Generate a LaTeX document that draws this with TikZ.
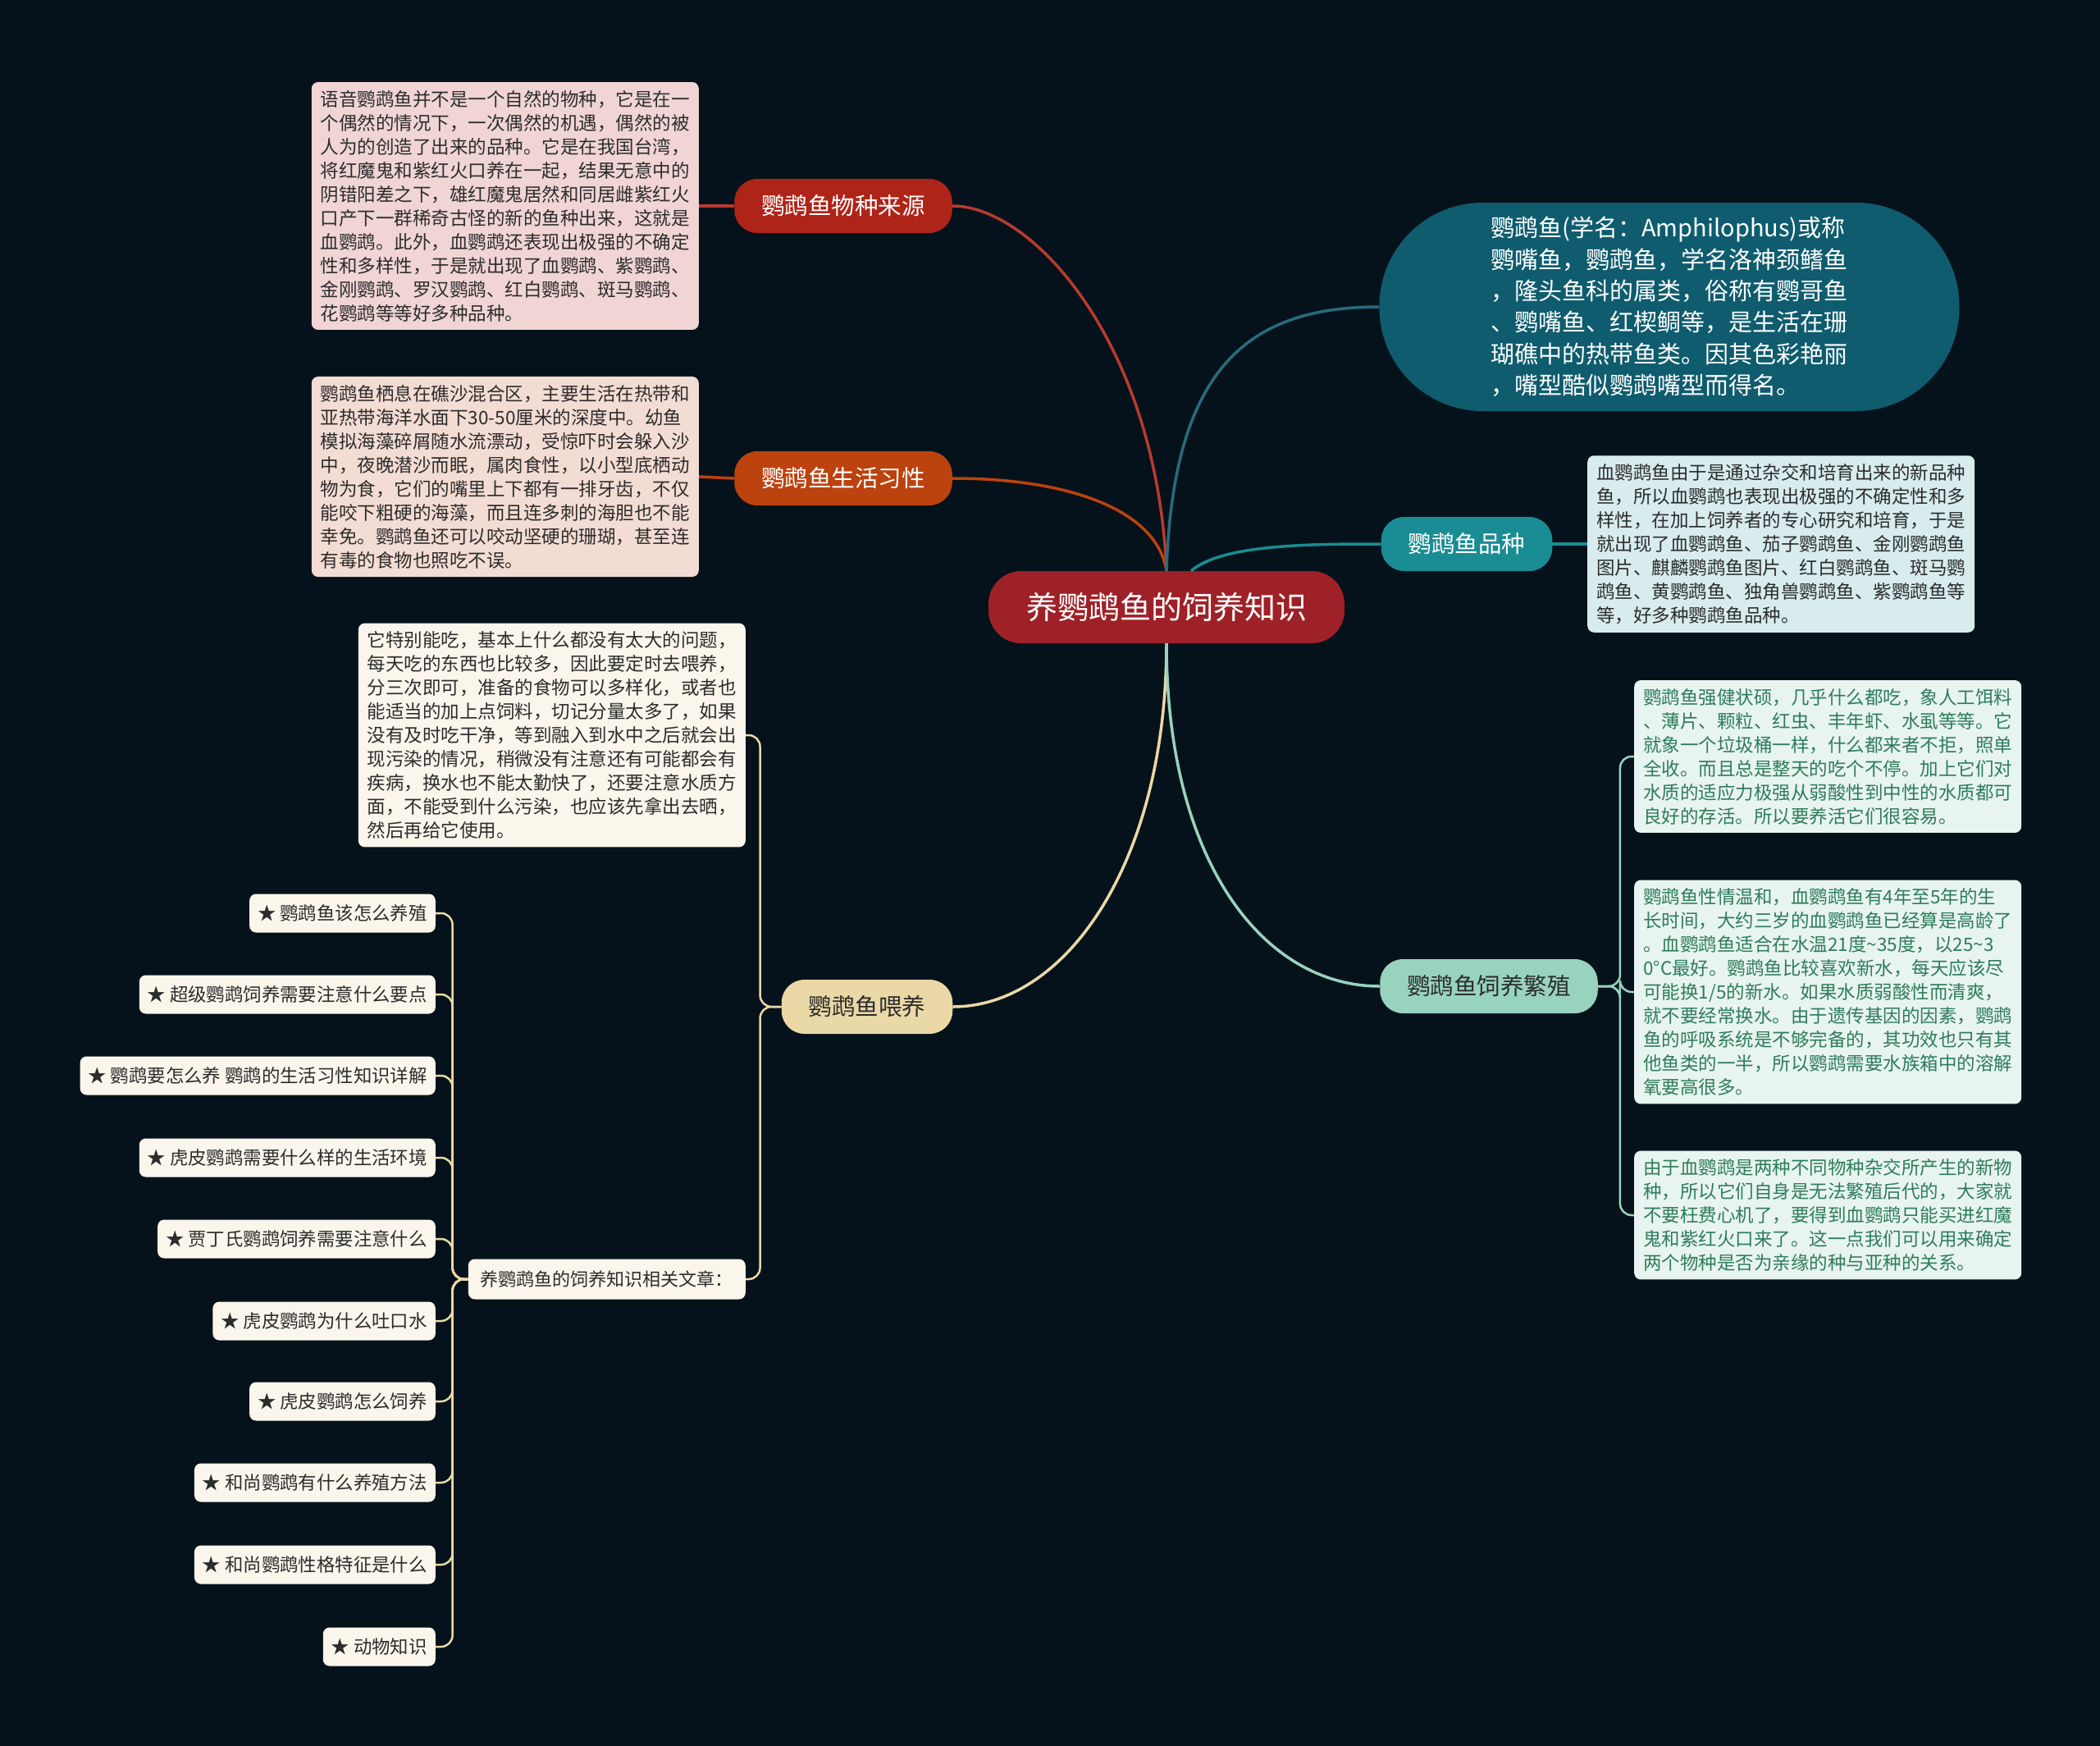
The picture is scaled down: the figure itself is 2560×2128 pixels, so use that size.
\documentclass[tikz,border=0pt]{standalone}
\usepackage{fontspec}
\setmainfont{Noto Sans CJK SC}
\usepackage{xcolor}
\usepackage{tikz}

\definecolor{bg}{HTML}{06121B}
\definecolor{rootred}{HTML}{9E2128}
\definecolor{originred}{HTML}{AF2418}
\definecolor{habitorange}{HTML}{BC420E}
\definecolor{feedsand}{HTML}{EAD8A6}
\definecolor{introteal}{HTML}{0F5C6E}
\definecolor{varteal}{HTML}{1A8C93}
\definecolor{breedmint}{HTML}{98D3BE}
\definecolor{pinkleaf}{HTML}{F0D5D4}
\definecolor{peachleaf}{HTML}{F3DCD3}
\definecolor{cream}{HTML}{FAF6EC}
\definecolor{iceleaf}{HTML}{D8ECEE}
\definecolor{mintleaf}{HTML}{E8F4F0}
\definecolor{mintext}{HTML}{2E7C5C}
\definecolor{darktext}{HTML}{2C2C2C}

\begin{document}
\begin{tikzpicture}[x=1pt,y=-1pt,
  root/.style={fill=rootred,text=white,rounded corners=40pt,minimum height=88pt,
    inner xsep=46pt,font=\fontsize{38}{46}\selectfont},
  topic/.style={rounded corners=28pt,minimum height=66pt,inner xsep=33pt,
    font=\fontsize{28.5}{34}\selectfont},
  leaf/.style={rounded corners=8pt,inner xsep=11pt,inner ysep=10pt,align=left,
    text=darktext,font=\fontsize{22.5}{29}\selectfont},
  item/.style={fill=cream,text=darktext,rounded corners=8pt,minimum height=47pt,
    inner xsep=10pt,anchor=east,font=\fontsize{22.4}{28}\selectfont},
  link/.style={line width=3.5pt},
  sub/.style={line width=2.5pt,rounded corners=14pt}]
% background
\fill[bg] (0,0) rectangle (2560,2128);
% centre and main topics
\node[root] (c) at (1422,740) {养鹦鹉鱼的饲养知识};
\node[topic,fill=originred,text=white] (o) at (1028,251) {鹦鹉鱼物种来源};
\node[topic,fill=habitorange,text=white] (h) at (1028,583) {鹦鹉鱼生活习性};
\node[topic,fill=feedsand,text=darktext] (f) at (1057,1227) {鹦鹉鱼喂养};
\node[topic,fill=varteal,text=white] (v) at (1788,663) {鹦鹉鱼品种};
\node[topic,fill=breedmint,text=darktext] (b) at (1815,1202) {鹦鹉鱼饲养繁殖};
\node[fill=introteal,text=white,rounded corners=126pt,minimum width=707pt,
  minimum height=254pt,align=left,font=\fontsize{29}{38.4}\selectfont]
  (intro) at (2035,374) {鹦鹉鱼(学名：Amphilophus)或称\\
  鹦嘴鱼，鹦鹉鱼，学名洛神颈鳍鱼\\
  ，隆头鱼科的属类，俗称有鹦哥鱼\\
  、鹦嘴鱼、红楔鲷等，是生活在珊\\
  瑚礁中的热带鱼类。因其色彩艳丽\\
  ，嘴型酷似鹦鹉嘴型而得名。};
% left leaves
\node[leaf,fill=pinkleaf,anchor=east] (lo) at (852,251) {语音鹦鹉鱼并不是一个自然的物种，它是在一\\
  个偶然的情况下，一次偶然的机遇，偶然的被\\
  人为的创造了出来的品种。它是在我国台湾，\\
  将红魔鬼和紫红火口养在一起，结果无意中的\\
  阴错阳差之下，雄红魔鬼居然和同居雌紫红火\\
  口产下一群稀奇古怪的新的鱼种出来，这就是\\
  血鹦鹉。此外，血鹦鹉还表现出极强的不确定\\
  性和多样性，于是就出现了血鹦鹉、紫鹦鹉、\\
  金刚鹦鹉、罗汉鹦鹉、红白鹦鹉、斑马鹦鹉、\\
  花鹦鹉等等好多种品种。};
\node[leaf,fill=peachleaf,anchor=east] (lh) at (852,581) {鹦鹉鱼栖息在礁沙混合区，主要生活在热带和\\
  亚热带海洋水面下30-50厘米的深度中。幼鱼\\
  模拟海藻碎屑随水流漂动，受惊吓时会躲入沙\\
  中，夜晚潜沙而眠，属肉食性，以小型底栖动\\
  物为食，它们的嘴里上下都有一排牙齿，不仅\\
  能咬下粗硬的海藻，而且连多刺的海胆也不能\\
  幸免。鹦鹉鱼还可以咬动坚硬的珊瑚，甚至连\\
  有毒的食物也照吃不误。};
\node[leaf,fill=cream,anchor=east] (fp) at (909,896) {它特别能吃，基本上什么都没有太大的问题，\\
  每天吃的东西也比较多，因此要定时去喂养，\\
  分三次即可，准备的食物可以多样化，或者也\\
  能适当的加上点饲料，切记分量太多了，如果\\
  没有及时吃干净，等到融入到水中之后就会出\\
  现污染的情况，稍微没有注意还有可能都会有\\
  疾病，换水也不能太勤快了，还要注意水质方\\
  面，不能受到什么污染，也应该先拿出去晒，\\
  然后再给它使用。};
\node[fill=cream,text=darktext,rounded corners=8pt,minimum height=49pt,inner xsep=15pt,
  anchor=east,font=\fontsize{22}{28}\selectfont] (rel) at (909,1559) {养鹦鹉鱼的饲养知识相关文章：};
% article list
\foreach \y/\t [count=\i] in {1113/鹦鹉鱼该怎么养殖,1212/超级鹦鹉饲养需要注意什么要点,
  1311/鹦鹉要怎么养 鹦鹉的生活习性知识详解,1411/虎皮鹦鹉需要什么样的生活环境,
  1510/贾丁氏鹦鹉饲养需要注意什么,1610/虎皮鹦鹉为什么吐口水,1708/虎皮鹦鹉怎么饲养,
  1807/和尚鹦鹉有什么养殖方法,1907/和尚鹦鹉性格特征是什么,2007/动物知识}{
  \node[item] (it\i) at (531,\y) {★ \t};
}
% right leaves
\node[leaf,fill=iceleaf,anchor=west] (lv) at (1935,663) {血鹦鹉鱼由于是通过杂交和培育出来的新品种\\
  鱼，所以血鹦鹉也表现出极强的不确定性和多\\
  样性，在加上饲养者的专心研究和培育，于是\\
  就出现了血鹦鹉鱼、茄子鹦鹉鱼、金刚鹦鹉鱼\\
  图片、麒麟鹦鹉鱼图片、红白鹦鹉鱼、斑马鹦\\
  鹉鱼、黄鹦鹉鱼、独角兽鹦鹉鱼、紫鹦鹉鱼等\\
  等，好多种鹦鹉鱼品种。};
\node[leaf,fill=mintleaf,text=mintext,anchor=west] (ba) at (1992,922) {鹦鹉鱼强健状硕，几乎什么都吃，象人工饵料\\
  、薄片、颗粒、红虫、丰年虾、水虱等等。它\\
  就象一个垃圾桶一样，什么都来者不拒，照单\\
  全收。而且总是整天的吃个不停。加上它们对\\
  水质的适应力极强从弱酸性到中性的水质都可\\
  良好的存活。所以要养活它们很容易。};
\node[leaf,fill=mintleaf,text=mintext,anchor=west] (bb) at (1992,1209) {鹦鹉鱼性情温和，血鹦鹉鱼有4年至5年的生\\
  长时间，大约三岁的血鹦鹉鱼已经算是高龄了\\
  。血鹦鹉鱼适合在水温21度\textasciitilde35度，以25\textasciitilde3\\
  0°C最好。鹦鹉鱼比较喜欢新水，每天应该尽\\
  可能换1/5的新水。如果水质弱酸性而清爽，\\
  就不要经常换水。由于遗传基因的因素，鹦鹉\\
  鱼的呼吸系统是不够完备的，其功效也只有其\\
  他鱼类的一半，所以鹦鹉需要水族箱中的溶解\\
  氧要高很多。};
\node[leaf,fill=mintleaf,text=mintext,anchor=west] (bc) at (1992,1481) {由于血鹦鹉是两种不同物种杂交所产生的新物\\
  种，所以它们自身是无法繁殖后代的，大家就\\
  不要枉费心机了，要得到血鹦鹉只能买进红魔\\
  鬼和紫红火口来了。这一点我们可以用来确定\\
  两个物种是否为亲缘的种与亚种的关系。};
% branches from the centre
\draw[link,originred!90!white] (c.north) .. controls (1410,420) and (1260,251) .. (o.east);
\draw[link,habitorange] (c.north) .. controls (1410,620) and (1300,583) .. (h.east);
\draw[link,introteal!90!white] (c.north) .. controls (1430,450) and (1520,374) .. (intro.west);
\draw[link,varteal] ([xshift=30pt]c.north) .. controls (1490,663) and (1600,663) .. (v.west);
\draw[link,feedsand] (c.south) .. controls (1422,1050) and (1300,1227) .. (f.east);
\draw[link,breedmint] (c.south) .. controls (1422,1050) and (1540,1202) .. (b.west);
% leaf connectors
\draw[link,originred!90!white] (o.west) -- (lo.east);
\draw[link,habitorange] (h.west) -- (lh.east);
\draw[link,varteal] (v.east) -- (lv.west);
\draw[sub,feedsand] (f.west) -- ++(-26,0) |- (fp.east);
\draw[sub,feedsand] (f.west) -- ++(-26,0) |- (rel.east);
\foreach \i in {1,...,10}
  \draw[sub,feedsand] (rel.west) -- ++(-19,0) |- (it\i.east);
\foreach \n in {ba,bb,bc}
  \draw[sub,breedmint] (b.east) -- ++(27,0) |- (\n.west);
\end{tikzpicture}
\end{document}
